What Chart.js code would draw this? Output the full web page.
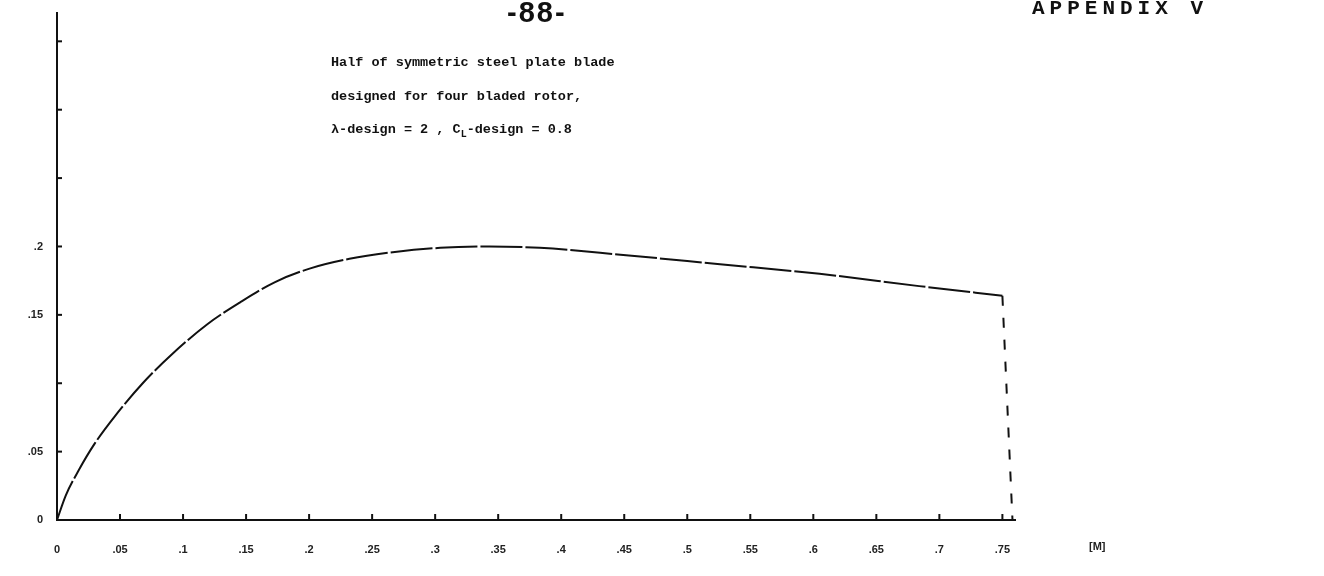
<!DOCTYPE html>
<html>
<head>
<meta charset="utf-8">
<script src="https://cdn.jsdelivr.net/npm/chart.js@4.4.1/dist/chart.umd.min.js"></script>
<style>
  html, body { margin: 0; padding: 0; background: #fff; }
  #wrap { position: relative; width: 1324px; height: 576px; overflow: hidden; }
  #chart { position: absolute; left: 0; top: 0; }
  .txt { position: absolute; color: #111; white-space: nowrap; }
  #page { left: 507px; top: -4px; font: bold 29px "Liberation Sans", Arial, sans-serif; letter-spacing: 2px; }
  #appx { left: 1032px; top: -3px; font: bold 21px "Liberation Mono", "DejaVu Sans Mono", monospace; letter-spacing: 5px; }
  .note { left: 331px; font: bold 13.5px "Liberation Mono", "DejaVu Sans Mono", monospace; }
  #unit { left: 1089px; top: 540px; font: bold 11px "Liberation Sans", sans-serif; color: #222; }
</style>
</head>
<body>
<div id="wrap">
  <canvas id="chart" width="1324" height="576"></canvas>
  <div class="txt" id="page">-88-</div>
  <div class="txt" id="appx">APPENDIX V</div>
  <div class="txt note" style="top:55px">Half of symmetric steel plate blade</div>
  <div class="txt note" style="top:89px">designed for four bladed rotor,</div>
  <div class="txt note" style="top:122px">λ-design = 2 , C<sub style="font-size:10px">L</sub>-design = 0.8</div>
  <div class="txt" id="unit">[M]</div>
</div>
<script>
// ========== DATA ==========
// blade outline: radius [M] vs half chord [M]
const radius = [0, 0.007, 0.017, 0.030, 0.046, 0.068, 0.091, 0.119, 0.145, 0.173,
  0.201, 0.232, 0.268, 0.304, 0.343, 0.383, 0.447, 0.526, 0.605, 0.684, 0.750];
const chord = [0, 0.018, 0.036, 0.056, 0.076, 0.100, 0.121, 0.143, 0.159, 0.174,
  0.184, 0.191, 0.196, 0.199, 0.200, 0.199, 0.194, 0.187, 0.180, 0.171, 0.164];
// dashed tip closing line
const tipRadius = [0.750, 0.758];
const tipChord = [0.164, 0];
const xTickLabels = ['0', '.05', '.1', '.15', '.2', '.25', '.3', '.35', '.4', '.45',
  '.5', '.55', '.6', '.65', '.7', '.75'];
const yTickLabels = ['0', '.05', '', '.15', '.2', '', '', ''];

// ========== INWARD TICK MARKS ==========
const inwardTicks = {
  id: 'inwardTicks',
  afterDraw(chart) {
    const { ctx, chartArea, scales } = chart;
    ctx.save();
    ctx.strokeStyle = '#111';
    ctx.lineWidth = 2;
    scales.x.ticks.forEach((t, i) => {
      if (i === 0) return;
      const x = scales.x.getPixelForTick(i);
      ctx.beginPath();
      ctx.moveTo(x, chartArea.bottom);
      ctx.lineTo(x, chartArea.bottom - 6);
      ctx.stroke();
    });
    scales.y.ticks.forEach((t, i) => {
      if (i === 0) return;
      const y = scales.y.getPixelForTick(i);
      ctx.beginPath();
      ctx.moveTo(chartArea.left, y);
      ctx.lineTo(chartArea.left + 5, y);
      ctx.stroke();
    });
    ctx.restore();
  }
};

function initBladeChart() {
  const el = document.getElementById('chart');
  new Chart(el.getContext('2d'), {
    type: 'line',
    data: {
      datasets: [
        {
          data: radius.map((r, i) => ({ x: r, y: chord[i] })),
          borderColor: '#111',
          borderWidth: 2,
          pointRadius: 0,
          cubicInterpolationMode: 'monotone',
          borderDash: [42, 3]
        },
        {
          data: tipRadius.map((r, i) => ({ x: r, y: tipChord[i] })),
          borderColor: '#111',
          borderWidth: 2,
          pointRadius: 0,
          tension: 0,
          borderDash: [10, 12]
        }
      ]
    },
    options: {
      responsive: false,
      animation: false,
      layout: { padding: { left: 0, right: 309, top: 1, bottom: 0 } },
      plugins: { legend: { display: false }, tooltip: { enabled: false } },
      scales: {
        x: {
          type: 'linear',
          min: 0,
          max: 0.76,
          grid: { display: false },
          border: { display: true, color: '#111', width: 2 },
          afterFit: s => { s.height = 56; },
          ticks: {
            stepSize: 0.05,
            includeBounds: false,
            padding: 15,
            color: '#222',
            font: { family: 'Liberation Sans', size: 11, weight: 'bold' },
            maxRotation: 0,
            autoSkip: false,
            callback: (v, i) => xTickLabels[i] ?? ''
          }
        },
        y: {
          min: 0,
          max: 0.371,
          grid: { display: false },
          border: { display: true, color: '#111', width: 2 },
          afterFit: s => { s.width = 57; },
          ticks: {
            stepSize: 0.05,
            includeBounds: false,
            padding: 6,
            color: '#222',
            font: { family: 'Liberation Sans', size: 11, weight: 'bold' },
            callback: (v, i) => yTickLabels[i] ?? ''
          }
        }
      }
    },
    plugins: [inwardTicks]
  });
}

initBladeChart();
</script>
</body>
</html>
